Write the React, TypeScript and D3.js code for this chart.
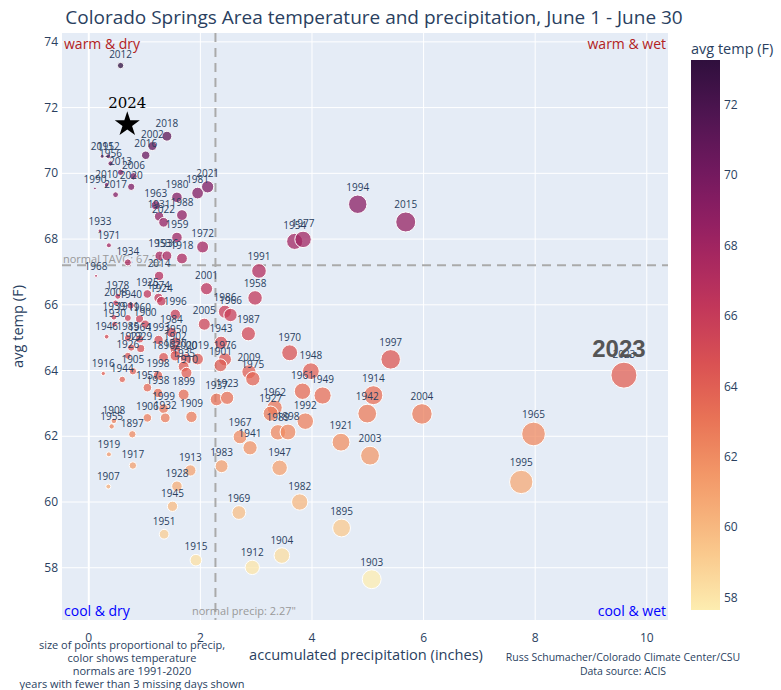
import React from 'react';
import * as d3 from 'd3';

// June 1 - June 30 totals, Colorado Springs area
const years = [
  2012, 2018, 2002, 2016, 2011, 1952, 1956, 2013, 2006, 2010,
  2020, 1990, 2017, 1980, 1981, 2021, 1963, 1931, 2022, 1988,
  1959, 1933, 1971, 1972, 1953, 1936, 1918, 1934, 2014, 1968,
  2001, 1925, 1974, 1924, 1978, 2008, 1940, 1996, 1986, 1966,
  1939, 1911, 1960, 1930, 1900, 2005, 1984, 1946, 1985, 1964,
  1993, 1950, 1943, 1902, 1922, 1929, 1926, 1896, 1920, 2000,
  2019, 1976, 1901, 1935, 1910, 1905, 1998, 1916, 1944, 1957,
  1938, 1899, 1937, 1923, 1999, 1906, 1932, 1909, 1908, 1955,
  1897, 1919, 1917, 1913, 1983, 1907, 1928, 1945, 1951, 1915,
  1991, 1958, 1987, 2009, 1975, 1970, 1948, 1997, 1961, 1949,
  1914, 1942, 1962, 1927, 1989, 1898, 1992, 1921, 2003, 1967,
  1941, 1947, 1982, 1969, 1895, 1904, 1912, 1903, 2015, 2023,
  2004, 1965, 1995, 1994, 1954, 1977,
];
const precip = [
  0.57, 1.40, 1.14, 1.02, 0.24, 0.35, 0.39, 0.57, 0.80, 0.32,
  0.76, 0.11, 0.48, 1.58, 1.95, 2.13, 1.20, 1.26, 1.34, 1.67,
  1.58, 0.20, 0.36, 2.04, 1.27, 1.40, 1.67, 0.70, 1.26, 0.13,
  2.11, 1.05, 1.25, 1.30, 0.52, 0.48, 0.75, 1.55, 2.44, 2.54,
  0.45, 0.70, 0.91, 0.46, 1.01, 2.07, 1.48, 0.32, 0.70, 0.91,
  1.25, 1.56, 2.37, 1.55, 0.76, 0.93, 0.70, 1.34, 1.55, 1.74,
  1.95, 2.44, 2.36, 1.70, 1.75, 0.79, 1.24, 0.26, 0.60, 1.05,
  1.24, 1.70, 2.29, 2.48, 1.34, 1.05, 1.37, 1.84, 0.45, 0.41,
  0.78, 0.36, 0.79, 1.82, 2.38, 0.35, 1.58, 1.50, 1.35, 1.92,
  3.05, 2.98, 2.86, 2.87, 2.94, 3.60, 3.98, 5.41, 3.83, 4.19,
  5.10, 4.99, 3.33, 3.26, 3.39, 3.57, 3.88, 4.52, 5.04, 2.71,
  2.89, 3.42, 3.78, 2.69, 4.53, 3.46, 2.93, 5.07, 5.68, 9.59,
  5.97, 7.97, 7.75, 4.82, 3.69, 3.84,
];
const avgTemp = [
  73.28, 71.13, 70.83, 70.55, 70.52, 70.52, 70.30, 70.03, 69.91, 69.65,
  69.59, 69.54, 69.35, 69.27, 69.40, 69.59, 69.03, 68.69, 68.51, 68.73,
  68.05, 68.25, 67.81, 67.76, 67.49, 67.49, 67.41, 67.29, 66.88, 66.88,
  66.49, 66.33, 66.21, 66.11, 66.26, 66.06, 65.98, 65.71, 65.79, 65.69,
  65.62, 65.60, 65.57, 65.41, 65.41, 65.41, 65.16, 65.03, 64.99, 64.96,
  64.93, 64.86, 64.85, 64.65, 64.70, 64.67, 64.45, 64.40, 64.45, 64.35,
  64.35, 64.34, 64.16, 64.12, 63.93, 63.98, 63.85, 63.91, 63.73, 63.48,
  63.32, 63.27, 63.12, 63.17, 62.84, 62.56, 62.56, 62.59, 62.47, 62.30,
  62.06, 61.45, 61.11, 60.96, 61.09, 60.47, 60.48, 59.87, 59.02, 58.23,
  67.03, 66.21, 65.12, 63.96, 63.75, 64.54, 63.98, 64.34, 63.37, 63.24,
  63.25, 62.69, 62.87, 62.69, 62.12, 62.13, 62.46, 61.82, 61.41, 61.98,
  61.65, 61.04, 60.00, 59.68, 59.21, 58.37, 58.01, 57.65, 68.52, 63.86,
  62.68, 62.07, 60.61, 69.06, 67.93, 67.99,
];

const currentYear = 2024;
const currentPrecip = 0.69;
const currentTemp = 71.55;
const highlightYear = 2023;

const normalTemp = 67.2;
const normalPrecip = 2.27;

const xTicks = [0, 2, 4, 6, 8, 10];
const yTicks = [58, 60, 62, 64, 66, 68, 70, 72, 74];
const cbTicks = [58, 60, 62, 64, 66, 68, 70, 72];

// plotly "matter"
const matter = [
  'rgb(253, 237, 176)', 'rgb(250, 205, 145)', 'rgb(246, 173, 119)', 'rgb(240, 142, 98)',
  'rgb(231, 109, 84)', 'rgb(216, 80, 83)', 'rgb(195, 56, 90)', 'rgb(168, 40, 96)',
  'rgb(138, 29, 99)', 'rgb(107, 24, 93)', 'rgb(76, 21, 80)', 'rgb(47, 15, 61)',
];

const notes = [
  'size of points proportional to precip,',
  'color shows temperature',
  'normals are 1991-2020',
  'years with fewer than 3 missing days shown',
];

const W = 781, H = 690;
const L = 62, R = 668, T = 33, B = 620;
const font = '"Open Sans", Verdana, sans-serif';
const ink = '#2a3f5f';

export default function App() {
  const x = d3.scaleLinear().domain([-0.48, 10.38]).range([L, R]);
  const y = d3.scaleLinear().domain([56.41, 74.27]).range([B, T]);
  const tMin = d3.min(avgTemp)!, tMax = d3.max(avgTemp)!;
  const color = d3.scaleSequential(d3.piecewise(d3.interpolateRgb, matter)).domain([tMin, tMax]);
  const pMax = d3.max(precip)!;
  const r = d3.scaleSqrt().domain([0, pMax]).range([0, 4.2 * Math.sqrt(pMax)]);

  const cbTop = 60, cbBot = 610, cbX = 691, cbW = 29;
  const cy = d3.scaleLinear().domain([tMin, tMax]).range([cbBot, cbTop]);
  const stops = d3.range(0, 1.0001, 0.05);

  const star = d3.symbol().type(d3.symbolStar).size(195)();

  const pts = years.map((yr, i) => ({ yr, p: precip[i], t: avgTemp[i] }));
  const hi = pts.find(d => d.yr === highlightYear)!;

  return (
    <div style={{ position: 'fixed', left: 0, top: 0 }}>
      <svg width={W} height={H} style={{ display: 'block', background: '#fff' }} fontFamily={font}>
        <defs>
          <linearGradient id="cb" x1="0" y1="1" x2="0" y2="0">
            {stops.map(s => (
              <stop key={s} offset={s} stopColor={color(tMin + s * (tMax - tMin))} />
            ))}
          </linearGradient>
          <clipPath id="plot"><rect x={L} y={T} width={R - L} height={B - T} /></clipPath>
        </defs>

        <text x={374} y={24} textAnchor="middle" fontSize={19} fill={ink}>
          Colorado Springs Area temperature and precipitation, June 1 - June 30
        </text>

        <rect x={L} y={T} width={R - L} height={B - T} fill="#E5ECF6" />
        {yTicks.map(v => (
          <line key={'gy' + v} x1={L} x2={R} y1={y(v)} y2={y(v)} stroke="#fff" strokeWidth={1} />
        ))}
        {xTicks.map(v => (
          <line key={'gx' + v} x1={x(v)} x2={x(v)} y1={T} y2={B} stroke="#fff" strokeWidth={v === 0 ? 2 : 1} />
        ))}

        <g clipPath="url(#plot)">
          <line x1={L} x2={R} y1={y(normalTemp)} y2={y(normalTemp)} stroke="#aaa" strokeWidth={2} strokeDasharray="9,6" />
          <line x1={x(normalPrecip)} x2={x(normalPrecip)} y1={T} y2={B} stroke="#aaa" strokeWidth={2} strokeDasharray="9,6" />
          <text x={63} y={y(normalTemp) - 2} fontSize={11} fill="#999">normal TAVG: {normalTemp}F</text>
          <text x={192} y={615} fontSize={11} fill="#999">normal precip: {normalPrecip}"</text>

          {pts.map(d => (
            <circle key={'c' + d.yr} cx={x(d.p)} cy={y(d.t)} r={r(d.p)} fill={color(d.t)}
              fillOpacity={0.75} stroke="#fff" strokeWidth={1} />
          ))}
          {pts.map(d => (
            <text key={'t' + d.yr} x={x(d.p)} y={y(d.t) - r(d.p) - 4} textAnchor="middle" fontSize={10} fill={ink}>
              {d.yr}
            </text>
          ))}

          <path d={star!} transform={`translate(${x(currentPrecip)},${y(currentTemp) + 2})`} fill="#000" />
          <text x={x(currentPrecip)} y={y(currentTemp) - 14} textAnchor="middle" fontSize={15}
            fontFamily='"DejaVu Serif", "Liberation Serif", serif' fill="#000">{currentYear}</text>
          <text x={x(hi.p) - 5} y={y(hi.t) - r(hi.p) - 5} textAnchor="middle" fontSize={24} fontWeight="bold"
            fontFamily='"Liberation Sans", Arial, sans-serif' fill="#555">{highlightYear}</text>
        </g>

        <text x={64} y={49} fontSize={14} fill="#b22222">warm &amp; dry</text>
        <text x={666} y={49} fontSize={14} fill="#b22222" textAnchor="end">warm &amp; wet</text>
        <text x={64} y={616} fontSize={14} fill="#0000ff">cool &amp; dry</text>
        <text x={666} y={616} fontSize={14} fill="#0000ff" textAnchor="end">cool &amp; wet</text>

        {xTicks.map(v => (
          <text key={'xt' + v} x={x(v)} y={642} textAnchor="middle" fontSize={12} fill={ink}>{v}</text>
        ))}
        {yTicks.map(v => (
          <text key={'yt' + v} x={58} y={y(v) + 4} textAnchor="end" fontSize={12} fill={ink}>{v}</text>
        ))}
        <text x={366} y={660} textAnchor="middle" fontSize={14.6} fill={ink}>accumulated precipitation (inches)</text>
        <text transform={`translate(23,${(T + B) / 2}) rotate(-90)`} textAnchor="middle" fontSize={14.6} fill={ink}>avg temp (F)</text>

        <rect x={cbX} y={cbTop} width={cbW} height={cbBot - cbTop} fill="url(#cb)" />
        <text x={cbX} y={54} fontSize={14.5} fill={ink}>avg temp (F)</text>
        {cbTicks.map(v => (
          <text key={'cb' + v} x={cbX + cbW + 4} y={cy(v) + 4} fontSize={12} fill={ink}>{v}</text>
        ))}

        {notes.map((n, i) => (
          <text key={n} x={132} y={649 + i * 13} textAnchor="middle" fontSize={11} fill={ink}>{n}</text>
        ))}
        <text x={623} y={661} textAnchor="middle" fontSize={10.5} fill={ink}>Russ Schumacher/Colorado Climate Center/CSU</text>
        <text x={623} y={675} textAnchor="middle" fontSize={10.5} fill={ink}>Data source: ACIS</text>
      </svg>
    </div>
  );
}
